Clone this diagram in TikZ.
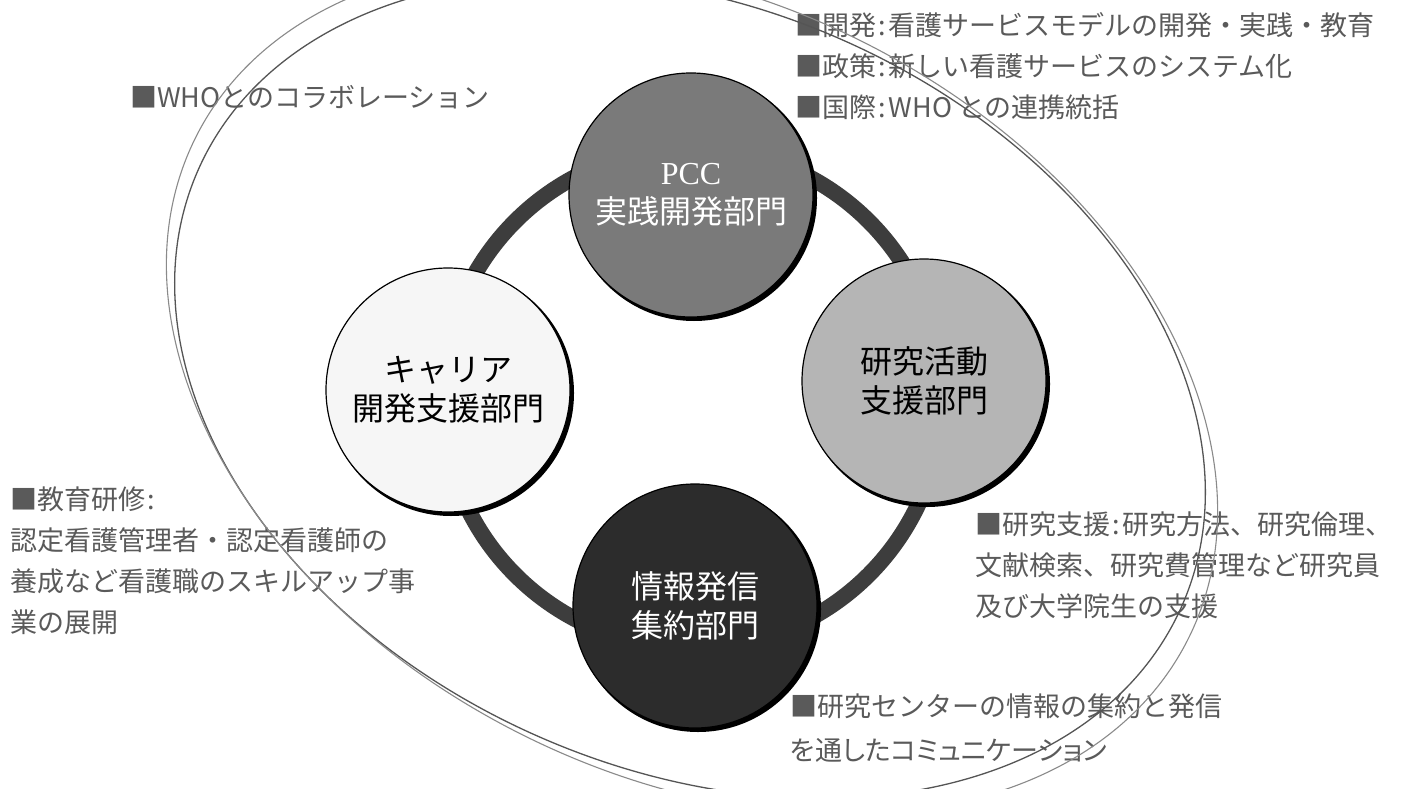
\documentclass[tikz,border=0pt]{standalone}
\usepackage{fontspec}
\usepackage{tikz}
\usetikzlibrary{shapes.geometric, arrows}
\newfontfamily\jpfont{Noto Sans CJK JP}
\newfontfamily\jppfont{Noto Sans CJK JP}[RawFeature=+palt]
\newfontfamily\pccfont{Liberation Serif}
\definecolor{notegray}{HTML}{5A5A5A}
\definecolor{ringgray}{HTML}{3D3D3D}
\definecolor{pccgray}{HTML}{7A7A7A}
\definecolor{resgray}{HTML}{B5B5B5}
\definecolor{cargray}{HTML}{F6F6F6}
\definecolor{infgray}{HTML}{2C2C2C}
\definecolor{darkline}{HTML}{555555}
\definecolor{lightline}{HTML}{8A8A8A}
\tikzstyle{unit} = [circle, draw=black, line width=1.2pt, minimum size=244pt,
                    inner sep=0pt, align=center,
                    font=\jpfont\fontsize{32}{39}\selectfont]
\tikzstyle{unitshadow} = [circle, fill=black, minimum size=246pt, inner sep=0pt]
\tikzstyle{note} = [anchor=north west, inner sep=0pt, align=left, text=notegray,
                    font=\jpfont\fontsize{27}{41}\selectfont]
\tikzstyle{ring} = [line width=16pt, color=ringgray]
\tikzstyle{loopdark} = [line width=1.3pt, color=darkline]
\tikzstyle{looplight} = [line width=1.1pt, color=lightline]
\newcommand{\colonSep}{\kern2pt:\kern3pt}

\begin{document}
\begin{tikzpicture}[x=1pt, y=-1pt]
\useasboundingbox (0,0) rectangle (1407,789);
\fill [white] (0,0) rectangle (1407,789);

\coordinate (hub) at (692,398);
\coordinate (cPCC) at (691,195);
\coordinate (cRes) at (924,381);
\coordinate (cCar) at (448,390);
\coordinate (cInf) at (695,606);
\coordinate (oDark) at (690,388);
\coordinate (oLight) at (692,388);

\draw [ring] (hub) circle [radius=250];

\node (pccShadow) [unitshadow, xshift=3pt, yshift=-3pt] at (cPCC) {};
\node (resShadow) [unitshadow, xshift=3pt, yshift=-3pt] at (cRes) {};
\node (carShadow) [unitshadow, xshift=3pt, yshift=-3pt] at (cCar) {};
\node (infShadow) [unitshadow, xshift=3pt, yshift=-3pt] at (cInf) {};

\node (pcc) [unit, fill=pccgray, text=white] at (cPCC)
  {{\pccfont\fontsize{32}{39}\selectfont PCC}\\実践開発部門};
\node (research) [unit, fill=resgray] at (cRes) {研究活動\\支援部門};
\node (career) [unit, fill=cargray] at (cCar) {キャリア\\開発支援部門};
\node (info) [unit, fill=infgray, text=white] at (cInf) {情報発信\\集約部門};

\node (whoNote) [note] at (130,85) {■WHOとのコラボレーション};
\node (devNote) [note] at (795,12)
  {■開発\colonSep 看護サービスモデルの開発・実践・教育\\
   ■政策\colonSep 新しい看護サービスのシステム化\\
   ■国際\colonSep WHO との連携統括};
\node (eduNote) [note] at (10,487)
  {■教育研修\colonSep\\
   認定看護管理者・認定看護師の\\
   養成など看護職のスキルアップ事\\
   業の展開};
\node (resNote) [note] at (975,512)
  {■研究支援\colonSep 研究方法、研究倫理、\\
   文献検索、研究費管理など研究員\\
   及び大学院生の支援};
\node (infNote) [note, font=\jpfont\fontsize{27}{44}\selectfont] at (790,694)
  {■研究センターの情報の集約と発信\\
   {\jppfont を通したコミュニケーション}};

\begin{scope}
\clip (0,0) rectangle (1407,789);
\draw [loopdark, rotate around={-24:(oDark)}] (oDark)
  ellipse [x radius=538, y radius=380];
\draw [looplight, rotate around={-27:(oLight)}] (oLight)
  ellipse [x radius=556, y radius=386];
\end{scope}

\end{tikzpicture}
\end{document}
